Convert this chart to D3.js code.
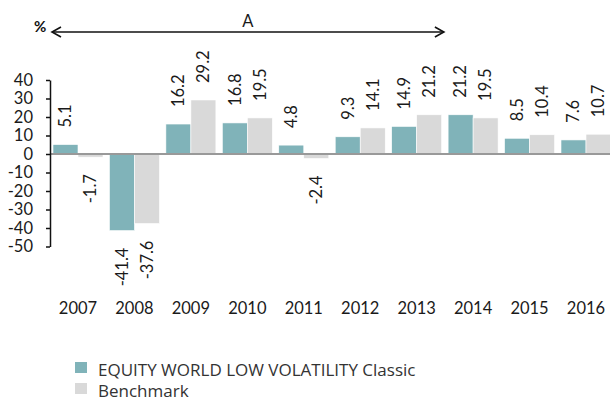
<!DOCTYPE html>
<html>
<head>
<meta charset="utf-8">
<script src="https://cdn.jsdelivr.net/npm/d3@7"></script>
<style>
	body { margin: 0; background: #fff; }
	svg { display: block; }
	.num { font-family: Lato, sans-serif; font-weight: 400; font-size: 16.5px; fill: #1a1a1a; }
	.legend text { font-family: 'Open Sans', sans-serif; font-size: 17px; fill: #333; }
</style>
</head>
<body>
<div id="chart"></div>
<script>
var years = ['2007', '2008', '2009', '2010', '2011', '2012', '2013', '2014', '2015', '2016'];
var fund = [5.1, -41.4, 16.2, 16.8, 4.8, 9.3, 14.9, 21.2, 8.5, 7.6];
var bench = [-1.7, -37.6, 29.2, 19.5, -2.4, 14.1, 21.2, 19.5, 10.4, 10.7];
var yTicks = [40, 30, 20, 10, 0, -10, -20, -30, -40, -50];
var seriesNames = ['EQUITY WORLD LOW VOLATILITY Classic', 'Benchmark'];
var colors = ['#80b3b9', '#d9d9d9'];
var periodLabel = 'A';
var periodYears = ['2007', '2013'];

var width = 610, height = 401;

// plain hyphen for negatives, like the source
var fmt = function (v) { return String(v.toFixed(1)); };
var fmtTick = function (v) { return String(v); };

var svg = d3.select('#chart').append('svg')
	.attr('width', width)
	.attr('height', height);

var x0 = d3.scaleBand()
	.domain(years)
	.range([50, 614])
	.paddingInner(0.114)
	.paddingOuter(0.053);

var x1 = d3.scaleBand()
	.domain([0, 1])
	.range([0, x0.bandwidth()]);

var y = d3.scaleLinear()
	.domain([-50, 40])
	.range([246.5, 80]);

// bars
var groups = svg.selectAll('.group')
	.data(years)
	.enter().append('g')
	.attr('class', 'group')
	.attr('transform', function (d) { return 'translate(' + x0(d) + ',0)'; });

groups.selectAll('rect')
	.data(function (d, i) { return [fund[i], bench[i]]; })
	.enter().append('rect')
	.attr('x', function (d, j) { return x1(j); })
	.attr('y', function (d) { return y(Math.max(0, d)); })
	.attr('width', x1.bandwidth())
	.attr('height', function (d) { return Math.abs(y(d) - y(0)); })
	.attr('fill', function (d, j) { return colors[j]; })
	.attr('stroke', '#fff')
	.attr('stroke-width', 0.6);

// value labels, rotated
groups.selectAll('.val')
	.data(function (d, i) { return [fund[i], bench[i]]; })
	.enter().append('text')
	.attr('class', 'num val')
	.attr('text-anchor', function (d) { return d >= 0 ? 'start' : 'end'; })
	.attr('dy', '0.35em')
	.attr('transform', function (d, j) {
		var cx = x1(j) + x1.bandwidth() / 2;
		var cy = d >= 0 ? y(d) - 17 : y(d) + 17;
		return 'translate(' + cx + ',' + cy + ') rotate(-90)';
	})
	.text(fmt);

// zero line
svg.append('line')
	.attr('x1', 50).attr('x2', width)
	.attr('y1', y(0)).attr('y2', y(0))
	.attr('stroke', '#999')
	.attr('stroke-width', 2);

// y axis
var yAxis = svg.append('g')
	.attr('transform', 'translate(50,0)')
	.call(d3.axisLeft(y).tickValues(yTicks).tickFormat(fmtTick).tickSize(4).tickSizeOuter(0).tickPadding(13));
yAxis.select('.domain').attr('stroke', '#111').attr('stroke-width', 1.5);
yAxis.selectAll('.tick line').attr('stroke', '#111').attr('stroke-width', 1.5);
yAxis.selectAll('text').attr('class', 'num').attr('font-size', null).attr('font-family', null);

// x labels
svg.selectAll('.year')
	.data(years)
	.enter().append('text')
	.attr('class', 'num year')
	.attr('text-anchor', 'middle')
	.attr('x', function (d) { return x0(d) + x0.bandwidth() / 2; })
	.attr('y', 314)
	.text(function (d) { return d; });

// period arrow
var defs = svg.append('defs');
defs.append('marker')
	.attr('id', 'head')
	.attr('viewBox', '-10 -6 12 12')
	.attr('markerWidth', 12).attr('markerHeight', 12)
	.attr('markerUnits', 'userSpaceOnUse')
	.attr('orient', 'auto-start-reverse')
	.append('path')
	.attr('d', 'M-9,-5 L0,0 L-9,5')
	.attr('fill', 'none')
	.attr('stroke', '#111')
	.attr('stroke-width', 1.6);

var ax1 = x0(periodYears[0]) - x0.step() * x0.paddingOuter() + 2;
var ax2 = x0(periodYears[1]) + x0.bandwidth() + x0.step() * x0.paddingInner() / 2 - 1;
svg.append('line')
	.attr('x1', ax1).attr('x2', ax2)
	.attr('y1', 32).attr('y2', 32)
	.attr('stroke', '#111')
	.attr('stroke-width', 1.6)
	.attr('marker-start', 'url(#head)')
	.attr('marker-end', 'url(#head)');

svg.append('text')
	.attr('class', 'num')
	.attr('text-anchor', 'middle')
	.attr('x', (ax1 + ax2) / 2)
	.attr('y', 27)
	.text(periodLabel);

svg.append('text')
	.attr('x', 34).attr('y', 32)
	.attr('font-family', 'Lato, sans-serif')
	.attr('font-weight', 'bold')
	.attr('font-size', 15)
	.attr('fill', '#111')
	.text('%');

// legend
var legend = svg.append('g').attr('class', 'legend');
var items = legend.selectAll('g')
	.data(seriesNames)
	.enter().append('g')
	.attr('transform', function (d, i) { return 'translate(75,' + (362 + i * 21) + ')'; });
items.append('rect')
	.attr('width', 12).attr('height', 11)
	.attr('fill', function (d, i) { return colors[i]; });
items.append('text')
	.attr('x', 23).attr('y', 14)
	.text(function (d) { return d; });
</script>
</body>
</html>
